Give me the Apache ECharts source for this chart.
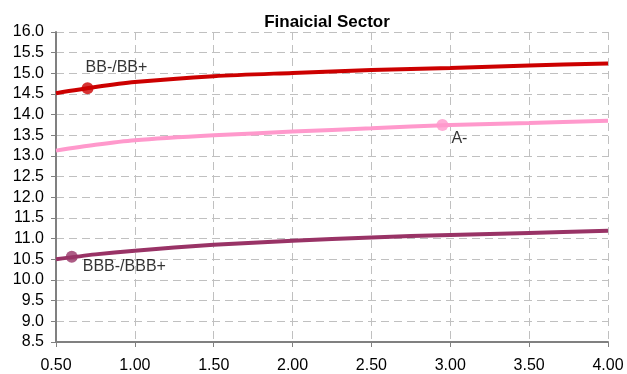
<!DOCTYPE html>
<html>
<head>
<meta charset="utf-8">
<script src="https://cdn.jsdelivr.net/npm/echarts@6/dist/echarts.min.js"></script>
<style>html,body{margin:0;padding:0;background:#fff}#c{width:627px;height:374px}</style>
</head>
<body>
<div id="c"></div>
<script>
const xValues = [0.5, 0.75, 1.0, 1.5, 2.0, 2.5, 3.0, 3.5, 4.0];
const bbValues = [14.52, 14.67, 14.79, 14.93, 15.01, 15.08, 15.13, 15.19, 15.24];
const aValues = [13.13, 13.27, 13.38, 13.50, 13.59, 13.67, 13.75, 13.80, 13.85];
const bbbValues = [10.50, 10.62, 10.71, 10.85, 10.95, 11.03, 11.09, 11.14, 11.19];
const bbMarker = [0.70, 14.64];
const aMarker = [2.95, 13.75];
const bbbMarker = [0.60, 10.56];
const seriesNames = ['BB-/BB+', 'A-', 'BBB-/BBB+'];
const colors = ['#CC0000', '#FF99CC', '#993366'];

const pair = v => xValues.map((x, i) => [x, v[i]]);
const font = 'Liberation Sans, Arial, sans-serif';
const lineSeries = [bbValues, aValues, bbbValues].map((v, i) => ({
  type: 'line', name: seriesNames[i], data: pair(v), smooth: 0.3,
  showSymbol: false, lineStyle: { color: colors[i], width: 4 }, z: 2
}));
const labelOffsets = [[-2, -21], [9, 14], [11, 10]];
const markerSeries = [bbMarker, aMarker, bbbMarker].map((m, i) => ({
  type: 'scatter', data: [m], symbolSize: 12, itemStyle: { color: colors[i] }, z: 3,
  label: { show: true, formatter: seriesNames[i], position: 'inside', color: '#000',
    fontFamily: font, fontSize: 16, align: 'left', verticalAlign: 'middle',
    offset: labelOffsets[i] }
}));

const chart = echarts.init(document.getElementById('c'));
chart.setOption({
  animation: false,
  title: { text: 'Finaicial Sector', left: 322, textAlign: 'center', top: 9,
    textStyle: { fontFamily: font, fontSize: 17, fontWeight: 'bold', color: '#000' } },
  grid: { left: 56, right: 19, top: 32, bottom: 32 },
  xAxis: {
    type: 'value', min: 0.5, max: 4.0, interval: 0.5,
    axisLine: { lineStyle: { color: '#808080', width: 2 } },
    axisTick: { show: true, length: 5, lineStyle: { color: '#808080' } },
    axisLabel: { formatter: v => v.toFixed(2), color: '#000', fontFamily: font, fontSize: 16, margin: 16 },
    splitLine: { show: true, lineStyle: { color: '#c0c0c0', type: [8, 5] } }
  },
  yAxis: {
    type: 'value', min: 8.5, max: 16.0, interval: 0.5,
    axisLine: { show: true, lineStyle: { color: '#808080', width: 2 } },
    axisTick: { show: true, length: 5, lineStyle: { color: '#808080' } },
    axisLabel: { formatter: v => v.toFixed(1), color: '#000', fontFamily: font, fontSize: 16, margin: 12 },
    splitLine: { show: true, lineStyle: { color: '#c0c0c0', type: [8, 5] } }
  },
  series: [...lineSeries, ...markerSeries]
});
</script>
</body>
</html>
